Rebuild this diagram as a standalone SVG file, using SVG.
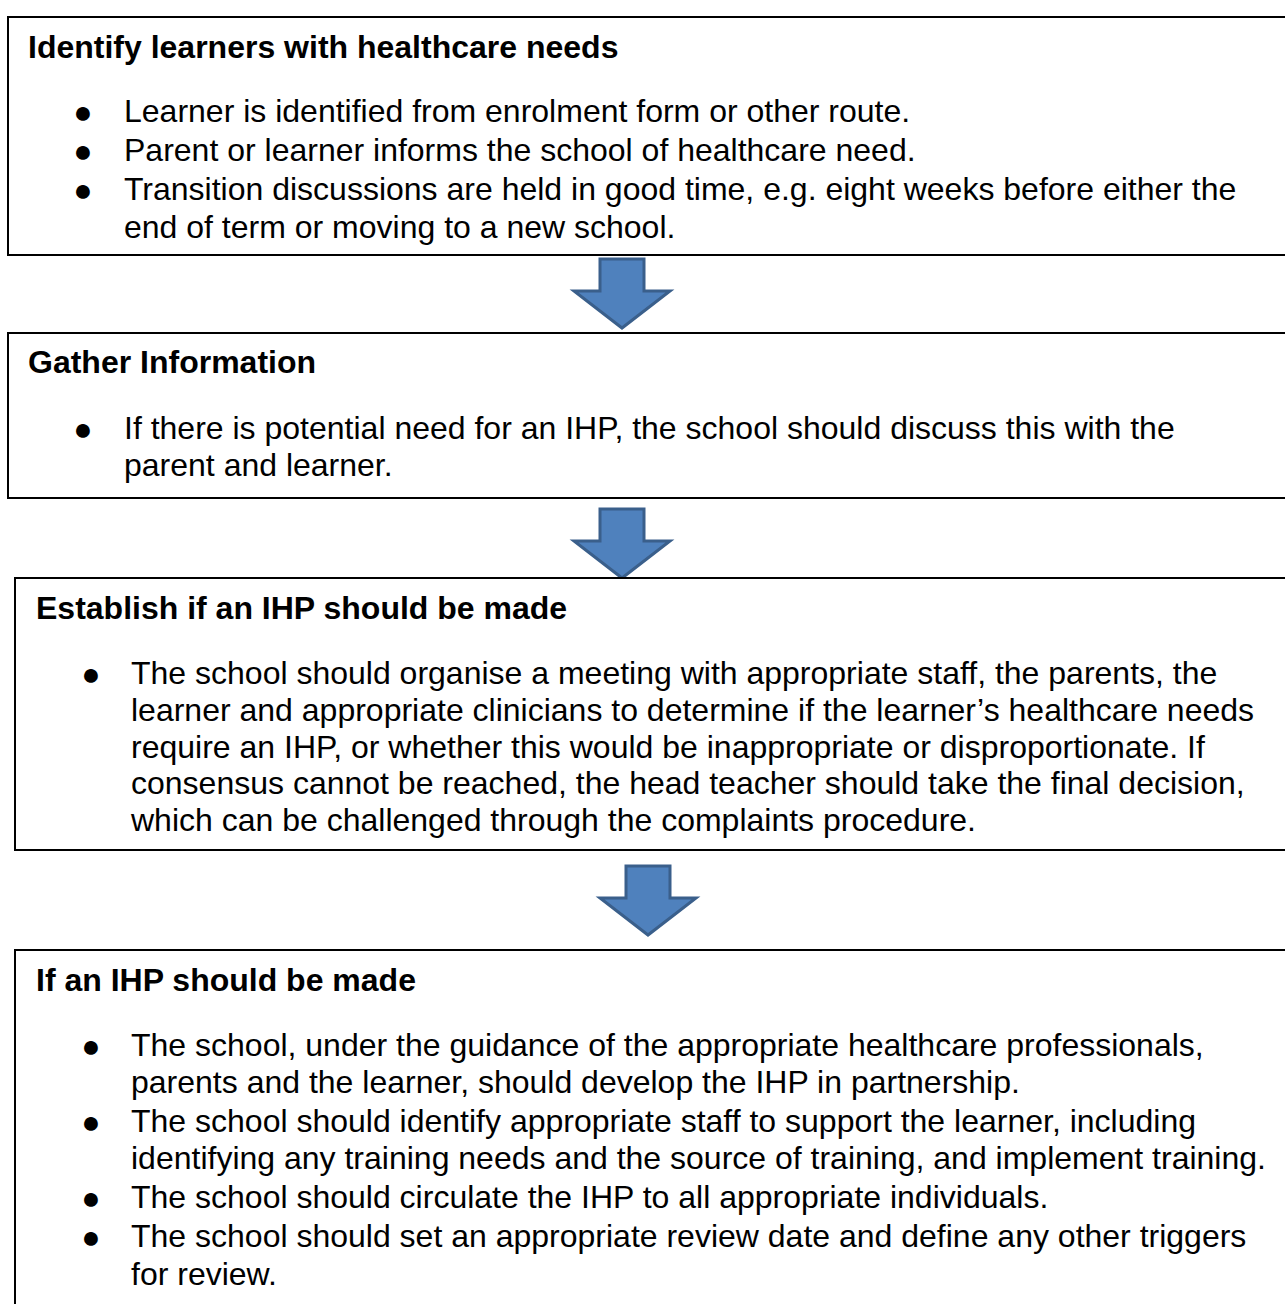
<svg xmlns="http://www.w3.org/2000/svg" width="1285" height="1304" viewBox="0 0 1285 1304">
<defs>
<style>
.box{fill:#fff;stroke:#000;stroke-width:2}
.h{font-family:"Liberation Sans",Arial,sans-serif;font-size:32px;font-weight:bold;fill:#000}
.t{font-family:"Liberation Sans",Arial,sans-serif;font-size:32px;fill:#000}
.b{font-family:"Liberation Sans","DejaVu Sans",sans-serif;font-size:32px;fill:#000;text-anchor:middle}
.arr{fill:#4F81BD;stroke:#3A5F8B;stroke-width:3;stroke-linejoin:miter}
</style>
<path id="ar" d="M-22,0 H22 V32 H48 L0,69 L-48,32 H-22 Z"/>
</defs>
<rect width="1285" height="1304" fill="#fff"/>
<g id="connectors">
<use href="#ar" class="arr" x="622" y="259"/>
<use href="#ar" class="arr" x="622" y="509"/>
<use href="#ar" class="arr" x="648" y="866"/>
</g>
<g id="n1">
<rect class="box" x="8" y="17" width="1290" height="238"/>
<text class="h" x="28" y="58">Identify learners with healthcare needs</text>
<text class="b" x="83" y="123">●</text><text class="t" x="124" y="122">Learner is identified from enrolment form or other route.</text>
<text class="b" x="83" y="162">●</text><text class="t" x="124" y="161">Parent or learner informs the school of healthcare need.</text>
<text class="b" x="83" y="201">●</text><text class="t" x="124" y="200">Transition discussions are held in good time, e.g. eight weeks before either the</text>
<text class="t" x="124" y="238">end of term or moving to a new school.</text>
</g>
<g id="n2">
<rect class="box" x="8" y="333" width="1290" height="165"/>
<text class="h" x="28" y="373">Gather Information</text>
<text class="b" x="83" y="440">●</text><text class="t" x="124" y="439">If there is potential need for an IHP, the school should discuss this with the</text>
<text class="t" x="124" y="476">parent and learner.</text>
</g>
<g id="n3">
<rect class="box" x="15" y="578" width="1290" height="272"/>
<text class="h" x="36" y="619">Establish if an IHP should be made</text>
<text class="b" x="91" y="685">●</text><text class="t" x="131" y="684">The school should organise a meeting with appropriate staff, the parents, the</text>
<text class="t" x="131" y="721">learner and appropriate clinicians to determine if the learner’s healthcare needs</text>
<text class="t" x="131" y="758">require an IHP, or whether this would be inappropriate or disproportionate. If</text>
<text class="t" x="131" y="794">consensus cannot be reached, the head teacher should take the final decision,</text>
<text class="t" x="131" y="831">which can be challenged through the complaints procedure.</text>
</g>
<g id="n4">
<rect class="box" x="15" y="950" width="1290" height="380"/>
<text class="h" x="36" y="991">If an IHP should be made</text>
<text class="b" x="91" y="1057">●</text><text class="t" x="131" y="1056">The school, under the guidance of the appropriate healthcare professionals,</text>
<text class="t" x="131" y="1093">parents and the learner, should develop the IHP in partnership.</text>
<text class="b" x="91" y="1133">●</text><text class="t" x="131" y="1132">The school should identify appropriate staff to support the learner, including</text>
<text class="t" x="131" y="1169">identifying any training needs and the source of training, and implement training.</text>
<text class="b" x="91" y="1209">●</text><text class="t" x="131" y="1208">The school should circulate the IHP to all appropriate individuals.</text>
<text class="b" x="91" y="1248">●</text><text class="t" x="131" y="1247">The school should set an appropriate review date and define any other triggers</text>
<text class="t" x="131" y="1285">for review.</text>
</g>
</svg>
